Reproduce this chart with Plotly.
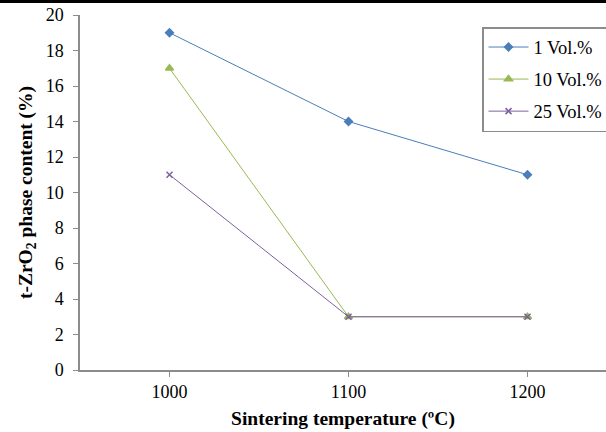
import plotly.graph_objects as go

temps = [1000, 1100, 1200]
vol1 = [19, 14, 11]
vol10 = [17, 3, 3]
vol25 = [11, 3, 3]
series_names = ["1 Vol.%", "10 Vol.%", "25 Vol.%"]
y_ticks = [0, 2, 4, 6, 8, 10, 12, 14, 16, 18, 20]

FONT = "'Times New Roman', 'Liberation Serif', 'DejaVu Serif', serif"
colors = ["#4A7EBB", "#98B954", "#7D60A0"]
symbols = ["diamond", "triangle-up", "x-thin-open"]
sizes = [6, 7, 6]

fig = go.Figure()
for name, vals, c, s, sz in zip(series_names, [vol1, vol10, vol25], colors, symbols, sizes):
    fig.add_trace(go.Scatter(
        x=temps, y=vals, name=name, legendgroup=name, mode="lines+markers",
        line=dict(color=c, width=1),
        marker=dict(symbol=s, size=sz, color=c, line=dict(color=c, width=1.5)),
    ))

L, T, B = 80, 15, 62
W, H = 606, 432
plot_h = H - T - B

fig.update_layout(
    width=W, height=H,
    margin=dict(l=L, r=0, t=T, b=B, autoexpand=False),
    paper_bgcolor="white", plot_bgcolor="white",
    font=dict(family=FONT, size=18, color="black"),
    showlegend=True,
    legend=dict(
        x=(482 - L) / (W - L), y=(H - B - 27) / plot_h,
        xanchor="left", yanchor="top",
        bordercolor="#8c8c8c", borderwidth=1.5, bgcolor="white",
        font=dict(family=FONT, size=18.5, color="black"),
        tracegroupgap=5, itemwidth=40,
    ),
    xaxis=dict(
        range=[950, 950 + 100 * (W - L) / 179],
        tickvals=temps, ticktext=[str(t) for t in temps],
        showgrid=False, zeroline=False, automargin=False,
        showline=True, linecolor="#8c8c8c", linewidth=1.5,
        ticks="outside", ticklen=5, tickcolor="#8c8c8c",
        tickfont=dict(family=FONT, size=18),
        title=dict(text="<b>Sintering temperature (ºC)</b>",
                   font=dict(family=FONT, size=19.5), standoff=10),
    ),
    yaxis=dict(
        range=[0, 20], tickvals=y_ticks,
        showgrid=False, zeroline=False, automargin=False,
        showline=True, linecolor="#8c8c8c", linewidth=1.5,
        ticks="outside", ticklen=5, tickcolor="#8c8c8c",
        ticklabelstandoff=6,
        tickfont=dict(family=FONT, size=18),
        title=dict(text="<b>t-ZrO<sub>2</sub> phase content (%)</b>",
                   font=dict(family=FONT, size=19.5), standoff=8),
    ),
)

# black rule across the top of the figure
fig.add_shape(type="line", xref="paper", yref="paper",
              x0=-L / (W - L), x1=1.0, y0=1 + (T - 1.5) / plot_h, y1=1 + (T - 1.5) / plot_h,
              line=dict(color="black", width=3))

fig.write_html("out.html")
